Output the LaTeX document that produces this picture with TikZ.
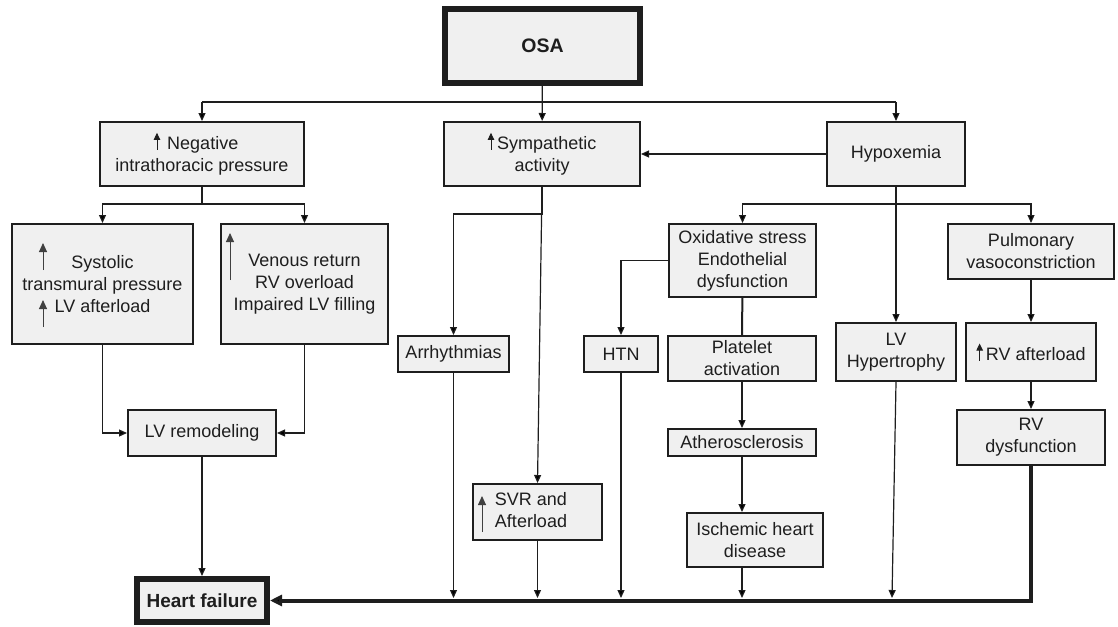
\documentclass[tikz,border=0pt]{standalone}
\usepackage{fontspec}
\setmainfont{Liberation Sans}
\usetikzlibrary{arrows.meta,calc}
\definecolor{boxfill}{RGB}{240,240,240}
\definecolor{ink}{RGB}{30,30,30}
\newcommand\fs{\fontsize{18}{22}\selectfont}
\newcommand\uparr{\tikz[baseline=0pt]\draw[ink,line width=0.9pt,-{Triangle[length=7pt,width=6.5pt]}] (0pt,0pt) -- (0pt,17pt);}
\begin{document}
\begin{tikzpicture}[x=1pt,y=-1pt,
  box/.style={draw=ink, fill=boxfill, line width=2.2pt, align=center, inner xsep=2pt, inner ysep=1pt, font=\fs, text=ink},
  sz/.style 2 args={minimum width=#1pt-2.2pt, minimum height=#2pt-2.2pt},
  conn/.style={draw=ink, line width=1.2pt, -{Triangle[length=8pt,width=7pt]}},
  plain/.style={draw=ink, line width=1.2pt},
  heavy/.style={draw=ink, line width=4pt, -{Triangle[length=12pt,width=11pt]}},
  upa/.style={draw=ink!85, line width=0.9pt, -{Triangle[length=9pt,width=8pt]}}]
\useasboundingbox (0,0) rectangle (1118,626);

% nodes
\node[box, line width=6pt, minimum width=195pt, minimum height=74pt, font=\fontsize{19.5}{22}\selectfont\bfseries] (osa) at (542.5,46) {OSA};
\node[box, sz={206}{66}] (neg) at (202,154) {\uparr\hspace{7pt}Negative\hspace*{12pt}\\intrathoracic pressure};
\node[box, sz={198}{66}] (sym) at (542,154) {\uparr\hspace{3pt}Sympathetic\\activity};
\node[box, sz={140}{66}] (hyp) at (896,154) {Hypoxemia};
\node[box, sz={183}{122}] (sys) at (102.5,284) {Systolic\\transmural pressure\\LV afterload};
\node[box, sz={169}{122}] (ven) at (304.5,284) {Venous return\\RV overload\\Impaired LV filling};
\node[box, sz={150}{48}] (lvr) at (202,433) {LV remodeling};
\node[box, line width=6pt, minimum width=130pt, minimum height=43pt, font=\fontsize{19}{22}\selectfont\bfseries] (hf) at (202,600.5) {Heart failure};
\node[box, sz={113}{38}] (arr) at (453.5,354) {Arrhythmias};
\node[box, sz={131}{58}] (svr) at (537.5,512) {\hspace*{-13pt}\begin{tabular}{@{}l@{}}SVR and\\Afterload\end{tabular}};
\node[box, sz={76}{38}] (htn) at (621,354) {HTN};
\node[box, sz={149}{75}] (oxi) at (742.5,260.5) {Oxidative stress\\Endothelial\\dysfunction};
\node[box, sz={150}{47}] (pla) at (742,358.5) {Platelet\\activation};
\node[box, sz={150}{29}] (ath) at (742,442.5) {Atherosclerosis};
\node[box, sz={138}{56}] (isc) at (755,540) {Ischemic heart\\disease};
\node[box, sz={122}{60}] (lvh) at (896,352) {LV\\Hypertrophy};
\node[box, sz={168}{57}] (pul) at (1031,251.5) {Pulmonary\\vasoconstriction};
\node[box, sz={132}{60}] (rva) at (1031,352) {\uparr\hspace{3pt}RV afterload};
\node[box, sz={150}{57}] (rvd) at (1031,437.5) {RV\\dysfunction};

% up arrows inside boxes
\draw[upa] (43,270) -- (43,243);
\draw[upa] (43,327) -- (43,300);
\draw[upa] (230,280) -- (230,233);
\draw[upa] (482,532) -- (482,496);

% helper coordinates
\coordinate (tipy) at (0,598);
\coordinate (bL) at (202,102);
\coordinate (bR) at (896,102);
\coordinate (nb) at (202,204);
\coordinate (sb) at (542,214);
\coordinate (hb) at (896,204);
\coordinate (lvhend) at (892,598);

% connectors
\draw[plain] (bL) -- (bR);
\draw[conn] (osa) -- (sym);
\draw[conn] (bL) -- (neg);
\draw[conn] (bR) -- (hyp);
\draw[conn] (hyp) -- (sym);
\draw[plain] (neg) -- (nb);
\draw[conn] (nb) -| (sys);
\draw[conn] (nb) -| (ven);
\draw[conn] (sys) |- (lvr);
\draw[conn] (ven) |- (lvr);
\draw[conn] (lvr) -- (hf);
\draw[conn] (sym.south) -- (sb) -| (arr);
\draw[conn] (sym.south) -- (svr.north);
\draw[conn] (hyp) -- (lvh);
\draw[conn] (hb) -| (oxi);
\draw[conn] (hb) -| (pul);
\draw[conn] (oxi.west) -| (htn);
\draw[plain, line width=2pt] (oxi) -- (pla);
\draw[conn] (pla) -- (ath);
\draw[conn] (ath.south) -- (ath.south |- isc.north);
\draw[conn] (arr) -- (arr |- tipy);
\draw[conn] (svr) -- (svr |- tipy);
\draw[conn] (htn) -- (htn |- tipy);
\draw[conn] (isc.south -| ath.south) -- (ath.south |- tipy);
\draw[conn] (lvh.south) -- (lvhend);
\draw[conn] (pul) -- (rva);
\draw[conn] (rva) -- (rvd);
\draw[heavy] (rvd.south) |- (hf.east);
\end{tikzpicture}
\end{document}
